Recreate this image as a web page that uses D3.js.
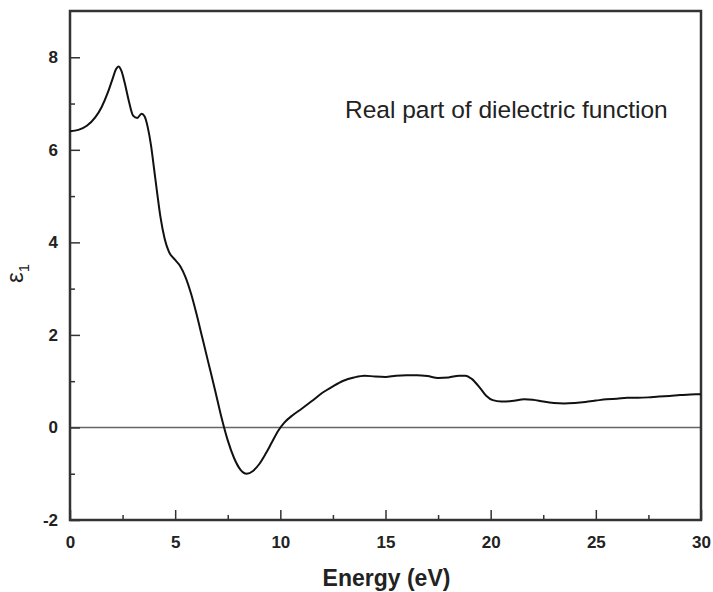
<!DOCTYPE html>
<html>
<head>
<meta charset="utf-8">
<script src="https://cdn.jsdelivr.net/npm/d3@7"></script>
<style>
  body { margin: 0; background: #fff; }
  svg text { font-family: "Liberation Sans", Arial, sans-serif; fill: #222; }
</style>
</head>
<body>
<div id="chart"></div>
<script>
// energy (eV) and real part of dielectric function
const energy = [
  0, 0.4, 0.8, 1.2, 1.5, 1.8, 2.0, 2.2, 2.3, 2.45, 2.6, 2.8, 3.0, 3.2, 3.4,
  3.55, 3.7, 3.85, 4.0, 4.15, 4.3, 4.5, 4.7, 5.0, 5.25, 5.5, 5.75, 6.0, 6.3,
  6.6, 6.9, 7.2, 7.5, 7.8, 8.1, 8.4, 8.7, 9.0, 9.3, 9.6, 9.9, 10.2, 10.6,
  11.0, 11.5, 12.0, 12.5, 13.0, 13.5, 14.0, 14.5, 15.0, 15.5, 16.0, 16.5,
  17.0, 17.5, 18.0, 18.5, 18.8, 19.1, 19.5, 19.8, 20.1, 20.5, 21.0, 21.6,
  22.0, 22.5, 23.0, 23.5, 24.0, 24.5, 25.0, 25.5, 26.0, 26.5, 27.0, 27.5,
  28.0, 28.5, 29.0, 29.5, 30.0
];
const eps1 = [
  6.40, 6.43, 6.52, 6.70, 6.92, 7.24, 7.50, 7.75, 7.80, 7.70, 7.45, 7.05,
  6.74, 6.69, 6.78, 6.72, 6.48, 6.10, 5.58, 5.05, 4.55, 4.08, 3.80, 3.62,
  3.48, 3.24, 2.90, 2.48, 1.92, 1.36, 0.80, 0.22, -0.28, -0.66, -0.91, -1.00,
  -0.94, -0.79, -0.57, -0.32, -0.07, 0.11, 0.27, 0.40, 0.57, 0.75, 0.89,
  1.01, 1.08, 1.12, 1.10, 1.09, 1.12, 1.13, 1.13, 1.11, 1.07, 1.08, 1.12,
  1.12, 1.05, 0.85, 0.68, 0.59, 0.56, 0.57, 0.61, 0.60, 0.56, 0.53, 0.52,
  0.53, 0.55, 0.58, 0.61, 0.62, 0.64, 0.64, 0.65, 0.67, 0.68, 0.70, 0.71, 0.72
];
const xTicks = [0, 5, 10, 15, 20, 25, 30];
const yTicks = [-2, 0, 2, 4, 6, 8];

var points = energy.map((e, i) => ({ e: e, v: eps1[i] }));

const margin = { top: 11, right: 12, bottom: 72, left: 70 };
const width = 713 - margin.left - margin.right;
const height = 592 - margin.top - margin.bottom;

const x = d3.scaleLinear().domain([0, 30]).range([0, width]);
const y = d3.scaleLinear().domain([-2, 9]).range([height, 0]);

var svg = d3
  .select("#chart")
  .append("svg")
  .attr("width", 713)
  .attr("height", 592)
  .append("g")
  .attr("transform", "translate(" + margin.left + "," + margin.top + ")");

// zero line
svg
  .append("line")
  .attr("x1", 0)
  .attr("x2", width)
  .attr("y1", y(0))
  .attr("y2", y(0))
  .attr("stroke", "#666")
  .attr("stroke-width", 1.5);

// minor ticks
svg
  .append("g")
  .attr("transform", "translate(0," + height + ")")
  .call(d3.axisBottom(x).tickValues(d3.range(2.5, 30, 5)).tickSize(-5).tickFormat(""))
  .call(g => g.select(".domain").remove())
  .selectAll("line").attr("stroke", "#333").attr("stroke-width", 1.5);

svg
  .append("g")
  .call(d3.axisLeft(y).tickValues(d3.range(-1, 9, 2)).tickSize(-5).tickFormat(""))
  .call(g => g.select(".domain").remove())
  .selectAll("line").attr("stroke", "#333").attr("stroke-width", 1.5);

// major ticks + labels
var xAxis = svg
  .append("g")
  .attr("transform", "translate(0," + height + ")")
  .call(d3.axisBottom(x).tickValues(xTicks).tickSize(-10).tickPadding(16)
    .tickFormat(d => String(d)));
xAxis.select(".domain").remove();
xAxis.selectAll("line").attr("stroke", "#333").attr("stroke-width", 1.5);
xAxis.selectAll("text")
  .style("font-size", "17px")
  .style("font-weight", "bold")
  .attr("fill", "#222");

var yAxis = svg
  .append("g")
  .call(d3.axisLeft(y).tickValues(yTicks).tickSize(-10).tickPadding(12)
    .tickFormat(d => String(d)));
yAxis.select(".domain").remove();
yAxis.selectAll("line").attr("stroke", "#333").attr("stroke-width", 1.5);
yAxis.selectAll("text")
  .style("font-size", "17px")
  .style("font-weight", "bold")
  .attr("fill", "#222");

// frame
svg
  .append("rect")
  .attr("width", width)
  .attr("height", height)
  .attr("fill", "none")
  .attr("stroke", "#333")
  .attr("stroke-width", 2.5);

// curve
var line = d3
  .line()
  .x(d => x(d.e))
  .y(d => y(d.v))
  .curve(d3.curveMonotoneX);

svg
  .append("path")
  .datum(points)
  .attr("d", line)
  .attr("fill", "none")
  .attr("stroke", "#111")
  .attr("stroke-width", 2);

// annotation
svg
  .append("text")
  .attr("x", 275)
  .attr("y", 107)
  .style("font-size", "24.5px")
  .text("Real part of dielectric function");

// axis titles
svg
  .append("text")
  .attr("x", width / 2 + 1)
  .attr("y", height + 66)
  .attr("text-anchor", "middle")
  .style("font-size", "23px")
  .style("font-weight", "bold")
  .text("Energy (eV)");

var yLabel = svg
  .append("text")
  .attr("transform", "translate(-47," + (height / 2 + 8) + ") rotate(-90)")
  .attr("text-anchor", "middle")
  .style("font-size", "24px");
yLabel.append("tspan").text("ε");
yLabel.append("tspan").attr("dy", 6).style("font-size", "15px").text("1");
</script>
</body>
</html>
